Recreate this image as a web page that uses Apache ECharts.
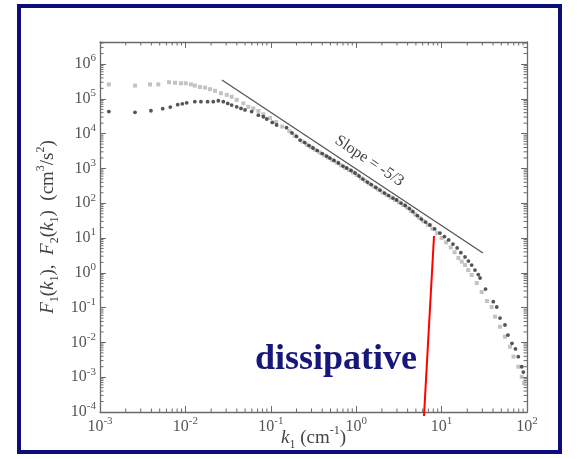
<!DOCTYPE html>
<html><head><meta charset="utf-8">
<script src="https://cdn.jsdelivr.net/npm/echarts@6/dist/echarts.min.js"></script>
<style>
html,body{margin:0;padding:0;background:#fff;}
#frame{position:absolute;left:17px;top:4px;width:545px;height:450px;box-sizing:border-box;border:4px solid #0d0d7a;}
#chart{position:absolute;left:0;top:0;width:578px;height:459px;}
</style></head><body>
<div id="frame"></div>
<div id="chart"></div>
<script>
// ---- data (k1 in cm^-1, F in cm^3/s^2) ----
const f2Points = [ // F2 (light grey squares)
 [1.27e-3,2.6e5],[2.57e-3,2.4e5],[3.85e-3,2.6e5],[4.82e-3,2.6e5],[6.43e-3,3.0e5],[7.55e-3,2.9e5],
 [8.87e-3,2.8e5],[1.01e-2,2.8e5],[1.16e-2,2.6e5],[1.29e-2,2.4e5],[1.48e-2,2.2e5],[1.7e-2,2.1e5],
 [1.94e-2,1.9e5],[2.22e-2,1.7e5],[2.61e-2,1.45e5],[3.05e-2,1.3e5],[3.48e-2,1.15e5],[3.99e-2,9.3e4],
 [4.77e-2,7.4e4],[5.46e-2,5.9e4],[6.24e-2,5.3e4],[7.15e-2,4.5e4],[8.17e-2,3.6e4],[0.098,2.8e4],
 [0.115,2.15e4],[0.136,1.6e4],[0.165,1.18e4],[0.19,8.8e3],[0.235,5.9e3],[0.265,4.8e3],[0.295,4.1e3],
 [0.33,3.45e3],[0.375,2.85e3],[0.425,2.35e3],[0.47,2.05e3],[0.52,1.75e3],[0.59,1.48e3],[0.66,1.23e3],
 [0.74,1.04e3],[0.82,900],[0.92,770],[1.02,650],[1.14,520],[1.27,440],[1.42,365],[1.6,300],[1.8,250],
 [2.02,205],[2.27,172],[2.55,145],[2.85,124],[3.15,106],[3.55,89],[3.95,74],[4.4,60],[4.9,48],[5.5,38],
 [6.1,30.5],[6.9,24],[7.8,18.5],[8.9,13.8],[10,10],[11.3,7.5],[12.8,5.4],[14.2,3.9],[15.7,2.66],
 [17.2,2.1],[18.8,1.67],[20.5,1.2],[22.5,0.865],[25.8,0.509],[29.5,0.28],[34,0.155],[38.6,0.104],
 [42.2,0.0548],[48.3,0.0282],[55.2,0.0146],[63.2,7.5e-3],[69.5,3.9e-3],[79.1,2.0e-3],[86.7,1.03e-3],[92.3,6.8e-4]
];
const f1Points = [ // F1 (black dots)
 [1.27e-3,4.3e4],[2.57e-3,4.1e4],[3.95e-3,4.55e4],[5.42e-3,5.2e4],[6.65e-3,5.8e4],[8.13e-3,6.8e4],
 [9.2e-3,7.2e4],[1.035e-2,7.7e4],[1.29e-2,8.3e4],[1.52e-2,8.3e4],[1.82e-2,8.3e4],[2.12e-2,8.3e4],
 [2.43e-2,8.8e4],[2.78e-2,8.3e4],[3.13e-2,7.4e4],[3.48e-2,6.6e4],[3.99e-2,5.9e4],[4.48e-2,5.3e4],
 [4.99e-2,4.8e4],[5.97e-2,4.3e4],[7.15e-2,3.4e4],[8.17e-2,3.06e4],[8.95e-2,2.63e4],[0.104,2.1e4],
 [0.117,1.77e4],[0.153,1.48e4],[0.177,1.05e4],[0.2,8.3e3],[0.22,6.55e3],[0.25,5.55e3],[0.28,4.55e3],
 [0.312,3.86e3],[0.35,3.27e3],[0.4,2.68e3],[0.45,2.27e3],[0.493,1.99e3],[0.55,1.69e3],[0.62,1.43e3],
 [0.7,1.17e3],[0.775,1.03e3],[0.87,871],[0.97,738],[1.08,605],[1.2,496],[1.35,406],[1.5,344],[1.7,283],
 [1.9,239],[2.15,196],[2.4,166],[2.7,141],[2.98,124],[3.35,101],[3.75,86],[4.2,70],[4.62,57],[5.2,44],
 [5.8,35],[6.5,28.8],[7.31,23.7],[8.3,18.2],[9.58,13.9],[10.8,11.0],[12.1,8.8],[13.6,6.7],[15.2,5.2],
 [16.8,3.8],[18.8,2.85],[20.6,2.18],[22.5,1.67],[24.6,1.2],[26.9,0.89],[28.2,0.71],[32.7,0.342],
 [40.3,0.148],[44.2,0.104],[48.3,0.05],[55.2,0.0316],[59.9,0.0163],[66.7,9.4e-3],[73.3,6.5e-3],
 [79.1,3.9e-3],[86.7,2.0e-3],[90.6,1.4e-3]
];
const slopeLine = [[0.0268,3.47e5],[30.5,3.7]];
const slopeText = 'Slope = -5/3';
const redLine = [[8.15,11.4],[6.22,7.7e-5]];
const annotation = 'dissipative';
const minorMultipliers = [2,3,4,5,6,7,8,9];
const xDecades = [-3,-2,-1,0,1];
const yDecades = [-4,-3,-2,-1,0,1,2,3,4,5,6];
const xMin = 1e-3, xMax = 1e2, yMin = 1e-4, yMax = 4.3e6;

const xMinorTicks = [];
xDecades.forEach(d => minorMultipliers.forEach(m => xMinorTicks.push(m * Math.pow(10, d))));
const yMinorTicks = [];
yDecades.forEach(d => minorMultipliers.forEach(m => { const v = m * Math.pow(10, d); if (v < yMax) yMinorTicks.push(v); }));

const SERIF = '"Liberation Serif","Times New Roman",serif';
const AX = '#6a6a6a';
const LBL = '#555';

function powLabel(v) {
  const l = Math.log10(v), e = Math.round(l);
  if (Math.abs(l - e) > 1e-6) return '';
  return '{b|10}{s|' + e + '}';
}
const labelRich = {
  b: {fontSize: 16, fontFamily: SERIF, color: LBL, lineHeight: 22},
  s: {fontSize: 11, fontFamily: SERIF, color: LBL, lineHeight: 11, verticalAlign: 'top'}
};
const titleRich = {
  i: {fontSize: 19, fontFamily: SERIF, fontStyle: 'italic', color: '#444', lineHeight: 26},
  n: {fontSize: 19, fontFamily: SERIF, color: '#444', lineHeight: 26},
  sb: {fontSize: 12, fontFamily: SERIF, color: '#444', lineHeight: 12, verticalAlign: 'bottom'},
  sp: {fontSize: 12, fontFamily: SERIF, color: '#444', lineHeight: 12, verticalAlign: 'top'}
};

function axisCommon() {
  return {
    axisLine: {show: true, onZero: false, lineStyle: {color: AX, width: 1.3}},
    axisTick: {show: true, inside: true, length: 6, lineStyle: {color: AX, width: 1}},
    splitLine: {show: false}
  };
}

const chart = echarts.init(document.getElementById('chart'), null, {renderer: 'canvas'});
const option = {
  animation: false,
  backgroundColor: 'transparent',
  grid: {left: 100, right: 51, top: 42, bottom: 47, containLabel: false, outerBoundsMode: 'none'},
  xAxis: [
    Object.assign(axisCommon(), {
      type: 'log', logBase: 10, min: xMin, max: xMax, interval: 1, position: 'bottom',
      axisLabel: {formatter: powLabel, rich: labelRich, margin: 4, showMinLabel: true, showMaxLabel: true},
      name: '{i|k}{sb|1}{n| (cm}{sp|-1}{n|)}', nameLocation: 'middle', nameGap: 13, nameMoveOverlap: false,
      nameTextStyle: {rich: titleRich}
    }),
    Object.assign(axisCommon(), {
      type: 'log', logBase: 10, min: xMin, max: xMax, interval: 1, position: 'top',
      axisLabel: {show: false}
    })
  ],
  yAxis: [
    Object.assign(axisCommon(), {
      type: 'log', logBase: 10, min: yMin, max: yMax, interval: 1, position: 'left',
      axisLabel: {formatter: powLabel, rich: labelRich, margin: 4, showMaxLabel: false},
      name: '{i|F}{sb|1}{n|(}{i|k}{sb|1}{n|),  }{i|F}{sb|2}{n|(}{i|k}{sb|1}{n|)  (cm}{sp|3}{n|/s}{sp|2}{n|)}',
      nameLocation: 'middle', nameRotate: 90, nameGap: 39, nameMoveOverlap: false,
      nameTextStyle: {rich: titleRich}
    }),
    Object.assign(axisCommon(), {
      type: 'log', logBase: 10, min: yMin, max: yMax, interval: 1, position: 'right',
      axisLabel: {show: false}
    })
  ],
  series: [
    {
      type: 'custom', name: 'xminor', silent: true, xAxisIndex: 0, yAxisIndex: 0, clip: false, z: 1,
      data: xMinorTicks.map(v => [v, 1]),
      renderItem: function (params, api) {
        const v = api.value(0);
        const b = api.coord([v, yMin]), t = api.coord([v, yMax]);
        return {type: 'group', children: [
          {type: 'line', shape: {x1: b[0], y1: b[1], x2: b[0], y2: b[1] - 3.5}, style: {stroke: AX, lineWidth: 1}},
          {type: 'line', shape: {x1: t[0], y1: t[1], x2: t[0], y2: t[1] + 3.5}, style: {stroke: AX, lineWidth: 1}}
        ]};
      }
    },
    {
      type: 'custom', name: 'yminor', silent: true, xAxisIndex: 0, yAxisIndex: 0, clip: false, z: 1,
      data: yMinorTicks.map(v => [0.01, v]),
      renderItem: function (params, api) {
        const v = api.value(1);
        const l = api.coord([xMin, v]), r = api.coord([xMax, v]);
        return {type: 'group', children: [
          {type: 'line', shape: {x1: l[0], y1: l[1], x2: l[0] + 3.5, y2: l[1]}, style: {stroke: AX, lineWidth: 1}},
          {type: 'line', shape: {x1: r[0], y1: r[1], x2: r[0] - 3.5, y2: r[1]}, style: {stroke: AX, lineWidth: 1}}
        ]};
      }
    },
    {
      type: 'scatter', name: 'F2', data: f2Points, symbol: 'rect', symbolSize: 4,
      itemStyle: {color: '#b4b4b4'}, z: 3
    },
    {
      type: 'scatter', name: 'F1', data: f1Points, symbol: 'circle', symbolSize: 3.8,
      itemStyle: {color: '#2a2a2a'}, z: 4
    },
    {
      type: 'line', name: 'slope', data: slopeLine, symbol: 'none', z: 5,
      lineStyle: {color: '#555', width: 1.3}
    }
  ]
};
chart.setOption(option);

// annotations positioned from data coordinates
const s0 = chart.convertToPixel({xAxisIndex: 0, yAxisIndex: 0}, slopeLine[0]);
const s1 = chart.convertToPixel({xAxisIndex: 0, yAxisIndex: 0}, slopeLine[1]);
const dx = s1[0] - s0[0], dy = s1[1] - s0[1], len = Math.sqrt(dx * dx + dy * dy);
const t = 0.535, off = 14;
const cx = s0[0] + dx * t + (dy / len) * off;
const cy = s0[1] + dy * t - (dx / len) * off;
const r0 = chart.convertToPixel({xAxisIndex: 0, yAxisIndex: 0}, redLine[0]);
const r1 = chart.convertToPixel({xAxisIndex: 0, yAxisIndex: 0}, redLine[1]);

chart.setOption({
  graphic: [
    {
      type: 'text', x: cx, y: cy, rotation: -Math.atan2(dy, dx), z: 10, silent: true,
      style: {text: slopeText, font: '16px "Liberation Serif", "Times New Roman", serif', fill: '#444',
              align: 'center', verticalAlign: 'middle'}
    },
    {
      type: 'line', z: 10, silent: true,
      shape: {x1: r0[0], y1: r0[1], x2: r1[0], y2: r1[1]},
      style: {stroke: '#ff0000', lineWidth: 2}
    },
    {
      type: 'text', left: 255, top: 342, z: 10, silent: true,
      style: {text: annotation, font: 'bold 36px "Liberation Serif", "Times New Roman", serif', fill: '#17177a'}
    }
  ]
});
</script></body></html>
